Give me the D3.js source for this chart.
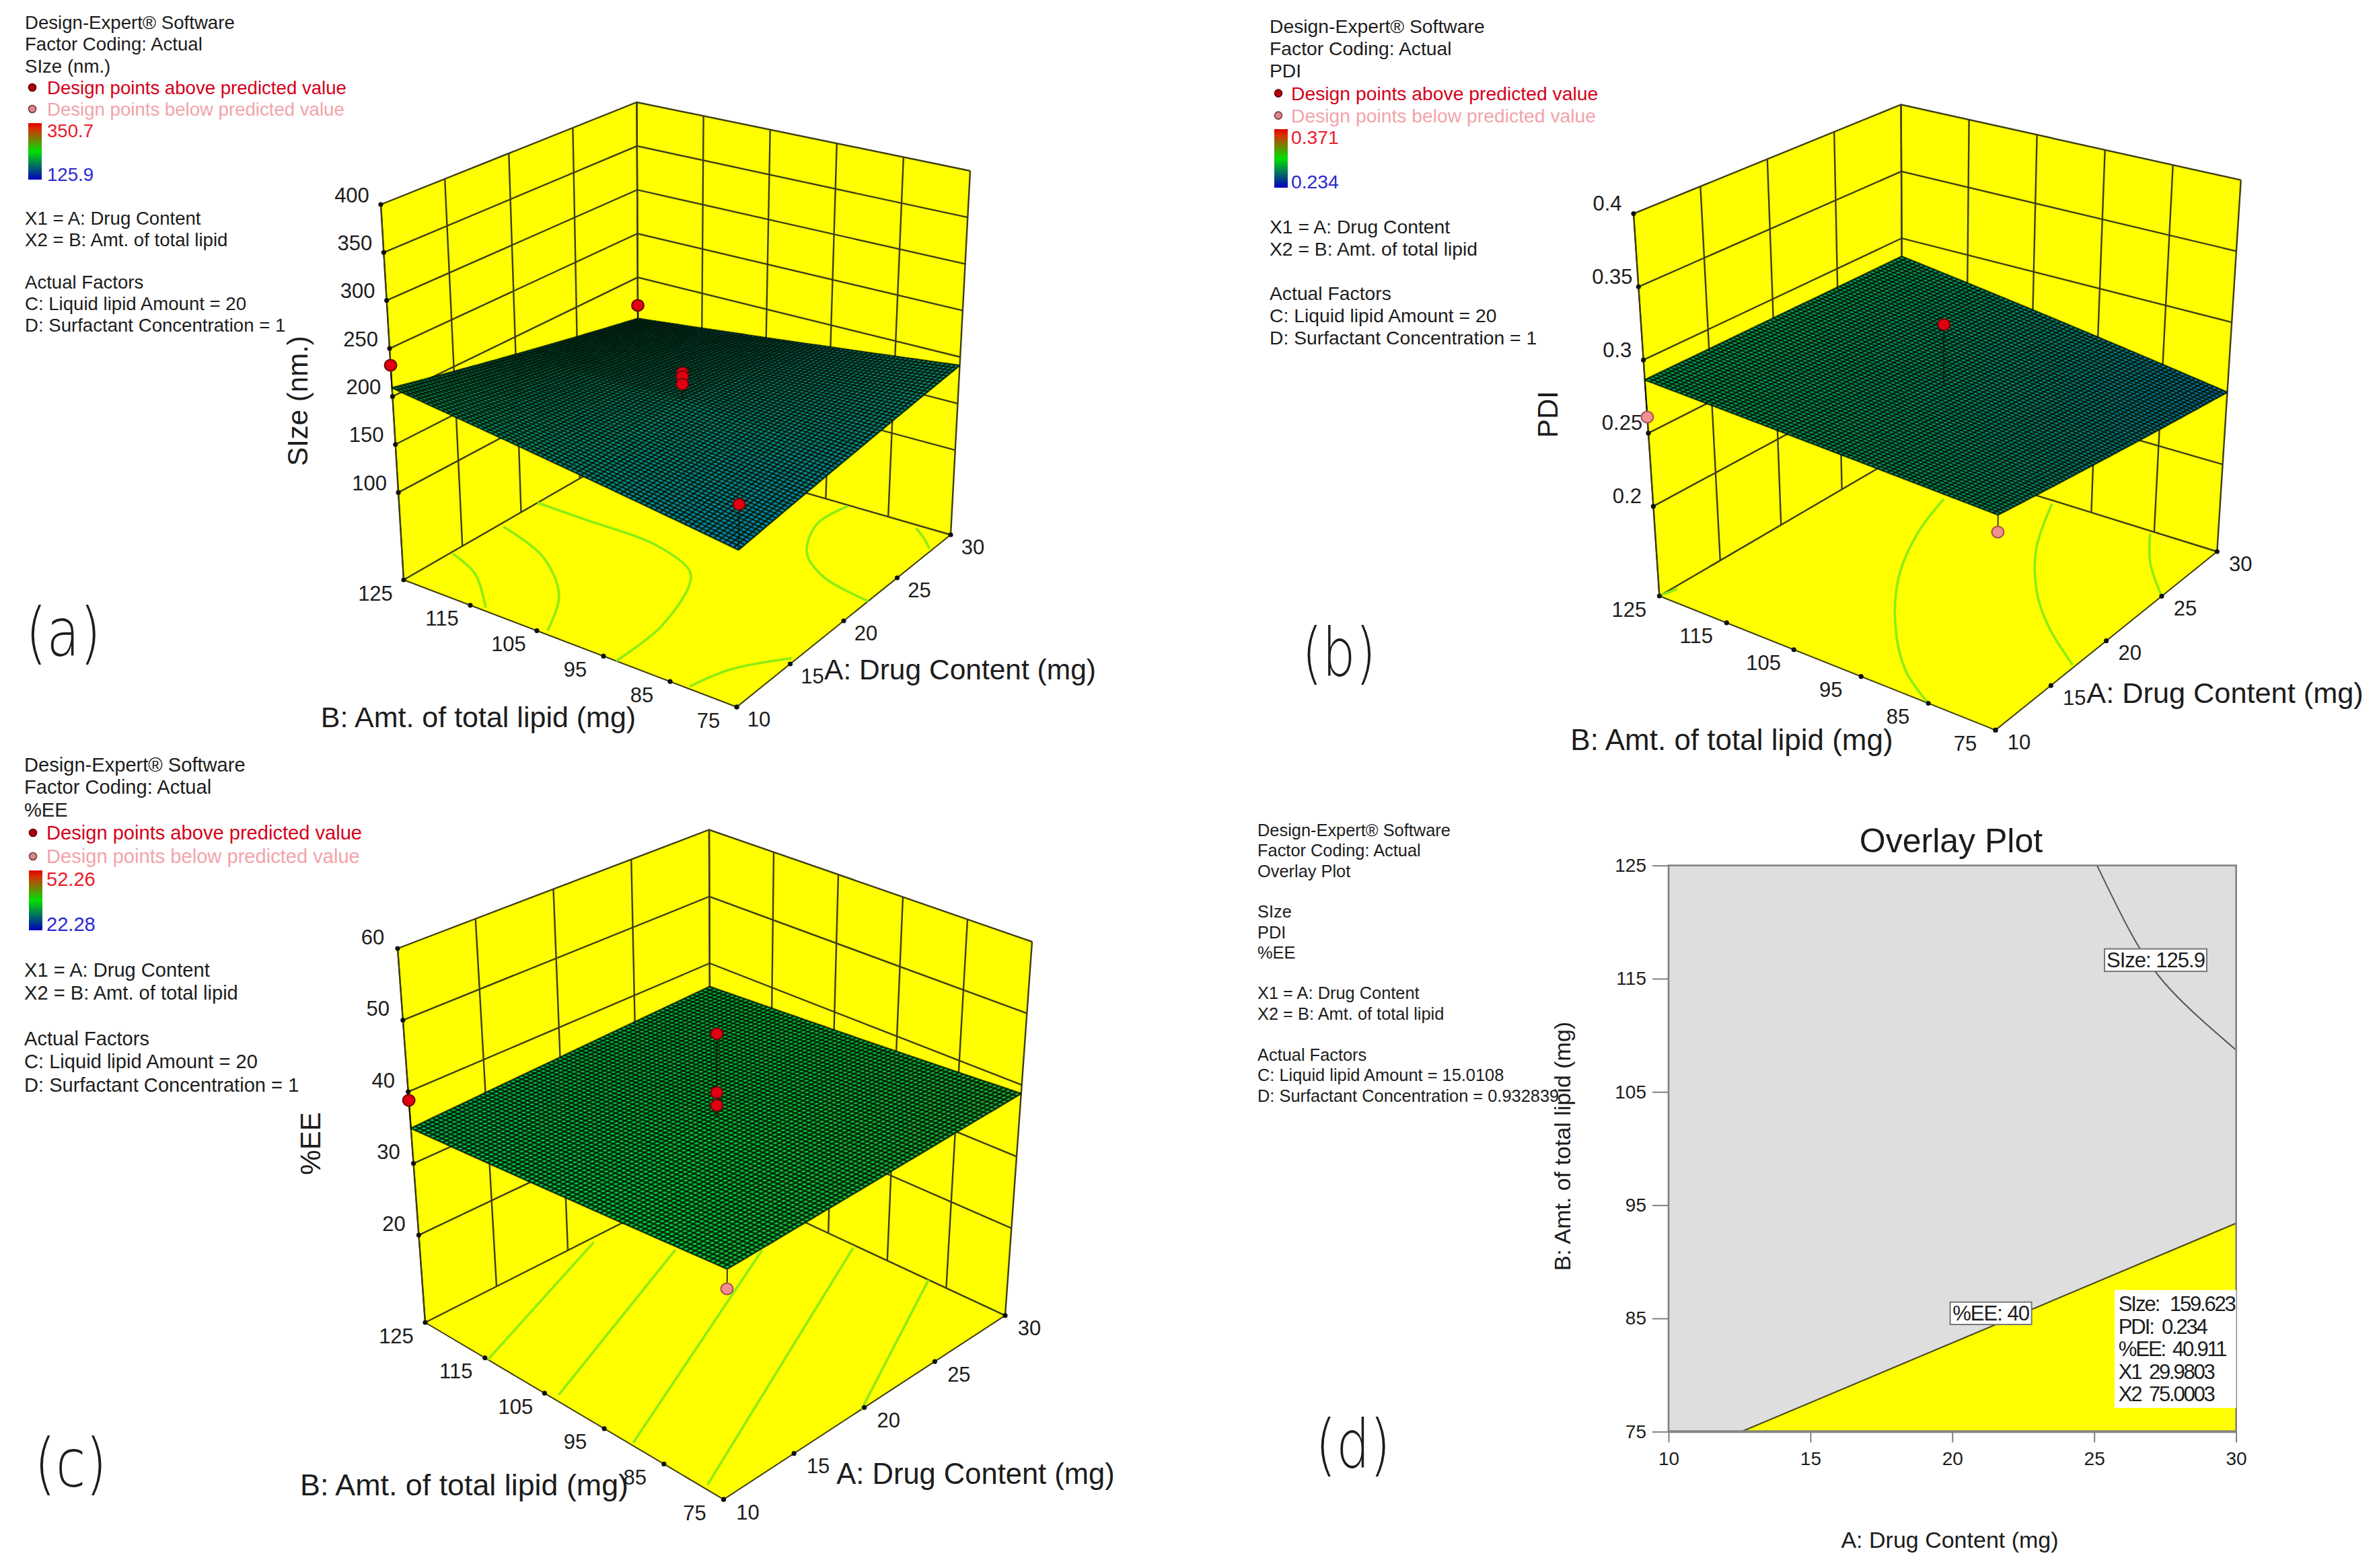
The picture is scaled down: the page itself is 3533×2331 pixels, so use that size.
<!DOCTYPE html>
<html><head><meta charset="utf-8">
<script src="https://d3js.org/d3.v7.min.js"></script>
<style>html,body{margin:0;padding:0;background:#fff}svg{display:block}text{font-family:"Liberation Sans",Arial,sans-serif;fill:#1c1c1c}</style>
</head><body><div id="c"></div>
<script>
// ---------- values ----------
const aTicks=[10,15,20,25,30];
const bTicks=[125,115,105,95,85,75];
const gridA=[10,20,30];
const gridB=[75,100,125];
const sizeTicks=[100,150,200,250,300,350,400];
const pdiTicks=[0.2,0.25,0.3,0.35,0.4];
const eeTicks=[20,30,40,50,60];
// response surfaces: rows follow gridB, columns follow gridA
const sizeSurface=[[164,177.5,191],[186.5,186,172],[209,181,153]];
const pdiSurface=[[0.2782,0.2645,0.2508],[0.2823,0.2755,0.2686],[0.2864,0.2864,0.2864]];
const eeSurface=[[37.9,38.3,38.8],[36.4,37.4,37.6],[34.9,35.7,36.5]];
// design points: [A, B, response, above?]
const sizePoints=[[30,125,168,1],[10,125,232.5,1],[20,100,214,1],[20,100,210,1],[20,100,202,1],[10,75,209,1]];
const pdiPoints=[[20,100,0.318,1],[10,125,0.261,0],[10,75,0.267,0]];
const eePoints=[[10,125,38.8,1],[20,100,49,1],[20,100,40.8,1],[20,100,39,1],[10,75,35.3,0]];
// floor contours in (A,B)
const sizeContours=[
 [[10,93.1],[14.2,93.4],[18.5,96.4],[19.8,98.5],[21.1,105.9],[21.3,117.6],[21.4,125]],
 [[10.35,104],[13.7,108],[16.6,115.5],[18.1,124.3]],
 [[10.3,113.2],[12.9,119.3],[14,124.7]],
 [[22.3,75],[23.1,83.3],[24.7,88.7],[27.5,92],[29.9,91.3]],
 [[28.3,75.5],[29,77.5],[29.7,80]],
 [[10.2,82.4],[12.8,80.5],[15.5,75.6]]];
const pdiContours=[
 [[10,85],[11.8,91.4],[15,98.5],[19.1,105.3],[23.4,110.2],[27.1,113]],
 [[17.2,75.4],[19.5,83],[21.9,89],[25.5,95.5],[29.7,100.7]],
 [[25,75],[27.4,81],[29.75,85.2]],
 [[10,125],[11.2,124.5]]];
const eeContours=[
 [[10,114.5],[21.5,124.2]],
 [[10.4,103.6],[23.8,116]],
 [[10.2,90.6],[26.7,108.3]],
 [[10.3,78.4],[29.8,100.3]],
 [[19.8,75],[30,88]]];
// legends
const sizeLegendTop=["Design-Expert® Software","Factor Coding: Actual","SIze (nm.)"];
const pdiLegendTop=["Design-Expert® Software","Factor Coding: Actual","PDI"];
const eeLegendTop=["Design-Expert® Software","Factor Coding: Actual","%EE"];
const pointLegend=["Design points above predicted value","Design points below predicted value"];
const factorLines=["X1 = A: Drug Content","X2 = B: Amt. of total lipid"];
const actualLines=["Actual Factors","C: Liquid lipid Amount = 20","D: Surfactant Concentration = 1"];
const overlayLegend=["Design-Expert® Software","Factor Coding: Actual","Overlay Plot",null,"SIze","PDI","%EE",null,"X1 = A: Drug Content","X2 = B: Amt. of total lipid",null,"Actual Factors","C: Liquid lipid Amount = 15.0108","D: Surfactant Concentration = 0.932839"];
// overlay plot
const overlayTicksA=[10,15,20,25,30];
const overlayTicksB=[75,85,95,105,115,125];
const eeBoundary=[[12.57,75],[30,93.4]];
const sizeBoundary=[[25.1,125],[26.3,119],[27.7,114],[30,108.7]];
const readoutNames=["SIze:","PDI:","%EE:","X1","X2"];
const readoutValues=["159.623","0.234","40.911","29.9803","75.0003"];

// ---------- layout ----------
const W=3533,H=2331;
const panels=[
{tag:"(a)",tagXY:[94,940],tagW:112,title:"SIze (nm.)",titleXY:[442,596],legFs:27.6,bFs:43,aFs:42.5,
 zT:sizeTicks,zDom:[9,400],surf:sizeSurface,pts:sizePoints,cont:sizeContours,cRange:[125.9,350.7],
 legendTop:sizeLegendTop,hi:"350.7",lo:"125.9",
 corners:{F:[[1095,1051],[1102,462]],R:[[1413,795],[1442,254]],L:[[600,862],[566,304]],K:[[949,661],[946.5,152]]},
 lx:37,lc:70,ly:[33,65,98,130,162],bar:[42,183,20,84],hiY:194,loY:259,fy:[324,356],ay:[419,451,483],
 bLab:[711,1066],aLab:[1427,995],zOff:[-43,-14],bOff:[-42,20],aOff:[33,18]},
{tag:"(b)",tagXY:[1990,970],tagW:110,title:"PDI",titleXY:[2300,616],legFs:28.3,bFs:44,aFs:43.3,
 zT:pdiTicks,zDom:[0.1387,0.4],surf:pdiSurface,pts:pdiPoints,cont:pdiContours,cRange:[0.234,0.371],
 legendTop:pdiLegendTop,hi:"0.371",lo:"0.234",
 corners:{F:[[2966,1085.4],[2973,486]],R:[[3295.3,820],[3330.7,267.7]],L:[[2466.4,886],[2428,317.6]],K:[[2828,674.7],[2825.6,155.5]]},
 lx:1887,lc:1919,ly:[39,72,105,138.6,171.6],bar:[1894,192,20,87],hiY:204,loY:270,fy:[336.6,369.6],ay:[435.6,468.6,501.6],
 bLab:[2574,1099],aLab:[3307,1030],zOff:[-39,-15],bOff:[-45,20],aOff:[35,18]},
{tag:"(c)",tagXY:[105,2175],tagW:108,title:"%EE",titleXY:[461,1700],legFs:29.1,bFs:44.8,aFs:43.5,
 zT:eeTicks,zDom:[7.8,60],surf:eeSurface,pts:eePoints,cont:eeContours,cRange:[22.28,52.26],
 legendTop:eeLegendTop,hi:"52.26",lo:"22.28",
 corners:{F:[[1075.5,2229],[1085,1635]],R:[[1494,1955.7],[1534,1400]],L:[[632,1966],[591,1410]],K:[[1056,1751.6],[1054,1233.5]]},
 lx:36,lc:69,ly:[1137,1170,1204,1238,1273],bar:[43,1294,20,89],hiY:1306.5,loY:1374,fy:[1442,1476],ay:[1544,1578,1612.6],
 bLab:[690,2207],aLab:[1450,2191],zOff:[-37,-17],bOff:[-43,20],aOff:[36,19]}
];
const svg=d3.select("#c").append("svg").attr("width",W).attr("height",H).attr("viewBox",`0 0 ${W} ${H}`);
svg.append("rect").attr("width",W).attr("height",H).attr("fill","#fff");
const YEL="#ffff00",RED="#d4001a",PINK="#f2a3aa",LINE="#3e3e12";
const MESH=70;
const tickFs=31;
const defs=svg.append("defs");
defs.append("filter").attr("id","soft").attr("filterUnits","userSpaceOnUse").attr("x",0).attr("y",0).attr("width",W).attr("height",H)
 .append("feGaussianBlur").attr("stdDeviation",0.7);

function text(g,x,y,s,size,o={}){
 const t=g.append("text").attr("x",x).attr("y",y).attr("font-size",size).attr("dominant-baseline","central").text(s);
 if(o.anchor)t.attr("text-anchor",o.anchor);
 if(o.fill)t.style("fill",o.fill);
 if(o.spacing)t.attr("letter-spacing",o.spacing);
 if(o.rot)t.attr("transform",`rotate(${o.rot} ${x} ${y})`);
 return t;
}
panels.forEach((p,pi)=>{
 const g=svg.append("g");
 const sA=d3.scaleLinear([10,30],[0,1]),sB=d3.scaleLinear([75,125],[0,1]),sZ=d3.scaleLinear(p.zDom,[0,1]);
 const c=p.corners;
 const mix=(u,v,t)=>[u[0]+(v[0]-u[0])*t,u[1]+(v[1]-u[1])*t];
 const project=(A,B,Z)=>{
  const a=sA(A),b=sB(B),t=sZ(Z);
  const f=mix(c.F[0],c.F[1],t),r=mix(c.R[0],c.R[1],t),l=mix(c.L[0],c.L[1],t),k=mix(c.K[0],c.K[1],t);
  return mix(mix(f,r,a),mix(l,k,a),b);
 };
 const [z0,z1]=p.zDom;
 const poly=pts=>"M"+pts.map(q=>q.join(",")).join("L")+"Z";
 const open=pts=>"M"+pts.map(q=>q.join(",")).join("L");
 // walls and floor
 [[[10,125,z1],[30,125,z1],[30,125,z0],[10,125,z0]],
  [[30,125,z1],[30,75,z1],[30,75,z0],[30,125,z0]],
  [[10,125,z0],[30,125,z0],[30,75,z0],[10,75,z0]]].forEach(w=>{
   g.append("path").attr("d",poly(w.map(q=>project(...q)))).attr("fill",YEL).attr("stroke",YEL).attr("stroke-width",1);
 });
 const lines=g.append("g").attr("fill","none").attr("stroke",LINE).attr("stroke-width",2.4);
 p.zT.forEach(z=>lines.append("path").attr("d",open([project(10,125,z),project(30,125,z),project(30,75,z)])));
 aTicks.forEach(a=>lines.append("path").attr("d",open([project(a,125,z1),project(a,125,z0)])));
 bTicks.forEach(b=>lines.append("path").attr("d",open([project(30,b,z1),project(30,b,z0)])));
 lines.append("path").attr("d",open([project(10,125,z0),project(30,125,z0),project(30,75,z0)]));
 lines.append("path").attr("d",open([project(10,125,z0),project(10,125,z1)])).attr("stroke-width",2);
 // floor contours
 const cl=d3.line().curve(d3.curveCatmullRom);
 p.cont.forEach(k=>g.append("path").attr("d",cl(k.map(q=>project(q[0],q[1],z0)))).attr("fill","none").attr("stroke","#8cec14").attr("stroke-width",3.6));
 lines.append("path").attr("d",open([project(10,125,z0),project(10,75,z0),project(30,75,z0)])).attr("stroke-width",2);
 // surface
 const surfZ=(A,B)=>{
  const row=gridA.map((_,i)=>d3.scaleLinear(gridB,p.surf.map(r=>r[i]))(B));
  return d3.scaleLinear(gridA,row)(A);
 };
 const mid=(p.cRange[0]+p.cRange[1])/2;
 const col=d3.scaleLinear([p.cRange[0],mid,p.cRange[1]],["#0060f0","#00c840","#ff0000"]);
 const stepA=d3.range(MESH+1).map(i=>10+20*i/MESH),stepB=d3.range(MESH+1).map(i=>75+50*i/MESH);
 const node=stepA.map(A=>stepB.map(B=>project(A,B,surfZ(A,B))));
 const softG=g.append("g").attr("filter","url(#soft)");
 const cellG=softG.append("g");
 for(let i=0;i<MESH;i++)for(let j=0;j<MESH;j++){
  const z=surfZ(stepA[i]+10/MESH,stepB[j]+25/MESH);
  cellG.append("path").attr("d",poly([node[i][j],node[i+1][j],node[i+1][j+1],node[i][j+1]])).attr("fill",col(z));
 }
 const mesh=softG.append("g").attr("fill","none").attr("stroke","#001400").attr("stroke-opacity",0.8).attr("stroke-width",2.5);
 for(let i=0;i<=MESH;i++){
  mesh.append("path").attr("d",open(node[i]));
  mesh.append("path").attr("d",open(node.map(r=>r[i])));
 }
 // design points
 p.pts.forEach(q=>{
  g.append("path").attr("d",open([project(q[0],q[1],q[2]),project(q[0],q[1],surfZ(q[0],q[1]))])).attr("stroke","#141400").attr("stroke-width",1.6).attr("fill","none");
 });
 p.pts.forEach(q=>{
  const xy=project(q[0],q[1],q[2]);
  g.append("ellipse").attr("cx",xy[0]).attr("cy",xy[1]).attr("rx",9).attr("ry",8.5).attr("fill",q[3]?"#e00012":"#f09090").attr("stroke",q[3]?"#6a0808":"#a85050").attr("stroke-width",2);
 });
 // tick dots + labels
 const dots=g.append("g").attr("fill","#111");
 const dot=xy=>dots.append("circle").attr("cx",xy[0]).attr("cy",xy[1]).attr("r",3.6);
 p.zT.forEach(z=>{const xy=project(10,125,z);dot(xy);text(g,xy[0]+p.zOff[0],xy[1]+p.zOff[1],String(z),tickFs,{anchor:"middle"});});
 bTicks.forEach(b=>{const xy=project(10,b,z0);dot(xy);text(g,xy[0]+p.bOff[0],xy[1]+p.bOff[1],String(b),tickFs,{anchor:"middle"});});
 aTicks.forEach(a=>{const xy=project(a,75,z0);dot(xy);text(g,xy[0]+p.aOff[0],xy[1]+p.aOff[1],String(a),tickFs,{anchor:"middle"});});
 // axis titles
 text(g,p.bLab[0],p.bLab[1],"B: Amt. of total lipid (mg)",p.bFs,{anchor:"middle"});
 text(g,p.aLab[0],p.aLab[1],"A: Drug Content (mg)",p.aFs,{anchor:"middle"});
 text(g,p.titleXY[0],p.titleXY[1],p.title,42,{anchor:"middle",rot:-90});
 text(g,p.tagXY[0],p.tagXY[1],p.tag,100,{anchor:"middle"}).style("font-family","'DejaVu Sans'").style("font-weight",200).attr("textLength",p.tagW).attr("lengthAdjust","spacingAndGlyphs");
 // legend
 const lf=p.legFs;
 p.legendTop.forEach((s,i)=>text(g,p.lx,p.ly[i],s,lf));
 text(g,p.lc,p.ly[3],pointLegend[0],lf,{fill:RED});
 text(g,p.lc,p.ly[4],pointLegend[1],lf,{fill:PINK});
 [[3,"#b00010","#500"],[4,"#d88890","#733"]].forEach(d=>g.append("circle").attr("cx",p.bar[0]+6).attr("cy",p.ly[d[0]]).attr("r",5.5).attr("fill",d[1]).attr("stroke",d[2]).attr("stroke-width",1.6));
 const gid="ramp"+pi,grad=defs.append("linearGradient").attr("id",gid).attr("x1",0).attr("x2",0).attr("y1",0).attr("y2",1);
 [["0%","#e00000"],["10%","#d83000"],["50%","#00e000"],["100%","#0000c0"]].forEach(s=>grad.append("stop").attr("offset",s[0]).attr("stop-color",s[1]));
 g.append("rect").attr("x",p.bar[0]).attr("y",p.bar[1]).attr("width",p.bar[2]).attr("height",p.bar[3]).attr("fill",`url(#${gid})`);
 text(g,p.lc,p.hiY,p.hi,lf,{fill:"#e81c2c"});
 text(g,p.lc,p.loY,p.lo,lf,{fill:"#2a2ad0"});
 factorLines.forEach((s,i)=>text(g,p.lx,p.fy[i],s,lf));
 actualLines.forEach((s,i)=>text(g,p.lx,p.ay[i],s,lf));
});

// ---------- (d) overlay plot ----------
const d=svg.append("g");
const ox=d3.scaleLinear([10,30],[2480,3323.6]),oy=d3.scaleLinear([75,125],[2128.3,1286.6]);
d.append("rect").attr("x",ox(10)).attr("y",oy(125)).attr("width",ox(30)-ox(10)).attr("height",oy(75)-oy(125)).attr("fill","#dedede");
const region=[...eeBoundary,[30,75]];
d.append("path").attr("d","M"+region.map(q=>[ox(q[0]),oy(q[1])].join(",")).join("L")+"Z").attr("fill",YEL);
const ol=d3.line().x(q=>ox(q[0])).y(q=>oy(q[1]));
d.append("path").attr("d",ol(eeBoundary)).attr("stroke","#4a4a20").attr("stroke-width",2.2).attr("fill","none");
d.append("path").attr("d",ol.curve(d3.curveNatural)(sizeBoundary)).attr("stroke","#555").attr("stroke-width",2).attr("fill","none");
d.append("rect").attr("x",ox(10)).attr("y",oy(125)).attr("width",ox(30)-ox(10)).attr("height",oy(75)-oy(125)).attr("fill","none").attr("stroke","#808080").attr("stroke-width",2.6);
d.append("path").attr("d",ol.curve(d3.curveLinear)([[10,75],[30,75]])).attr("stroke","#858585").attr("stroke-width",4);
const axL=d.append("g").attr("transform",`translate(${ox(10)},0)`).call(d3.axisLeft(oy).tickValues(overlayTicksB).tickSize(24).tickPadding(9));
const axB=d.append("g").attr("transform",`translate(0,${oy(75)})`).call(d3.axisBottom(ox).tickValues(overlayTicksA).tickSize(16).tickPadding(14));
[axL,axB].forEach(a=>{a.select(".domain").remove();a.selectAll("line").attr("stroke","#808080").attr("stroke-width",2);a.selectAll("text").attr("font-size",28).style("font-family","'Liberation Sans'");});
text(d,2900,1250,"Overlay Plot",50,{anchor:"middle"});
text(d,2898,2289,"A: Drug Content (mg)",34,{anchor:"middle"});
text(d,2322,1704,"B: Amt. of total lipid (mg)",34,{anchor:"middle",rot:-90});
text(d,2011,2147,"(d)",100,{anchor:"middle"}).style("font-family","'DejaVu Sans'").style("font-weight",200).attr("textLength",112).attr("lengthAdjust","spacingAndGlyphs");
const legY=[1234,1264,1294.5,null,1355,1386,1416,null,1476,1507,null,1568,1598,1629];
overlayLegend.forEach((s,i)=>{if(s)text(d,1869,legY[i],s,25.4);});
const boxed=(x,y,w,h,s)=>{
 d.append("rect").attr("x",x).attr("y",y).attr("width",w).attr("height",h).attr("fill","#fff").attr("stroke","#777").attr("stroke-width",2);
 text(d,x+w/2,y+h/2,s,31,{anchor:"middle",spacing:-1});
};
boxed(3128,1410.6,152,33.4,"SIze: 125.9");
boxed(2898.6,1935.7,121,33.3,"%EE: 40");
d.append("rect").attr("x",3143).attr("y",1917.7).attr("width",180.6).attr("height",175.3).attr("fill","#fff");
const rowY=[1938.6,1972.5,2005.7,2039,2072.8],valX=[3225,3213,3229,3194,3194];
readoutNames.forEach((s,i)=>{
 text(d,3148.7,rowY[i],s,31,{spacing:-2});
 text(d,valX[i],rowY[i],readoutValues[i],31,{spacing:-2.2});
});
</script></body></html>
